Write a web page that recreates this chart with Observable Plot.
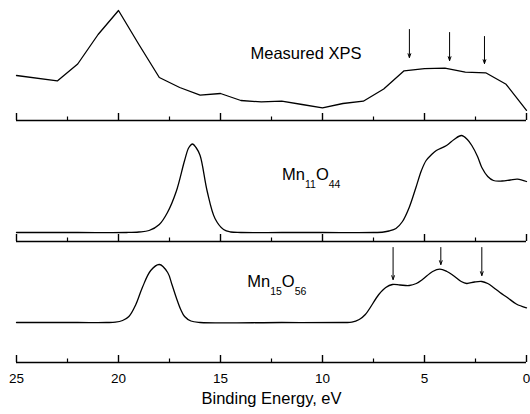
<!DOCTYPE html>
<html><head><meta charset="utf-8">
<script src="https://cdn.jsdelivr.net/npm/d3@7"></script>
<script src="https://cdn.jsdelivr.net/npm/@observablehq/plot@0.6"></script>
<style>
body{margin:0;background:#fff}
#chart{width:530px;height:414px;overflow:hidden;background:#fff}
#chart svg{display:block}
</style>
</head><body><div id="chart"></div>
<script>
// ---- data ----
const majorTicks = [25, 20, 15, 10, 5, 0];
const minorTicks = [22.5, 17.5, 12.5, 7.5, 2.5];

// Measured XPS (polyline)
const xpsEnergy = [25, 23, 22, 21, 20, 19, 18, 17, 16, 15, 14, 13, 12, 11, 10, 9, 8, 7, 6, 5, 4, 3, 2, 1, 0];
const xpsIntensity = [45, 39.6, 56.5, 86, 110, 76, 43, 33, 25.4, 27, 20, 18.6, 19.3, 16, 12.6, 17, 19.3, 31.5, 49.7, 51.8, 52.4, 48.4, 47.7, 36.2, 10.2];

// Mn11O44
const mn11Energy = [25, 22, 19.6, 19.0, 18.5, 18.0, 17.6, 17.17, 16.76, 16.55, 16.37, 16.2, 16.0, 15.65, 15.27, 14.85, 14.5, 14.0, 12, 10, 7.5, 7.0, 6.74, 6.4, 6.08, 5.75, 5.42, 5.15, 4.92, 4.65, 4.42, 3.92, 3.55, 3.19, 2.9, 2.68, 2.4, 2.19, 1.9, 1.62, 1.2, 0.8, 0.44, 0];
const mn11Intensity = [0, 0, 0, 0.5, 2, 8, 20, 41, 72, 85, 88.5, 85, 77, 41, 14, 3, 0.5, 0, 0, 0, 0, 0.5, 1.5, 4, 11, 25, 45, 62, 72, 78, 82, 87, 93, 97, 93, 87, 76, 65, 56, 52, 51.5, 52.5, 53.4, 51];

// Mn15O56
const mn15Energy = [25, 22, 20.6, 20.15, 19.8, 19.49, 19.15, 18.83, 18.42, 18.0, 17.59, 17.38, 17.17, 16.95, 16.76, 16.45, 16.0, 12, 9, 8.56, 8.2, 7.9, 7.24, 6.9, 6.57, 6.2, 5.75, 5.4, 5.1, 4.6, 4.25, 3.9, 3.59, 3.2, 2.93, 2.55, 2.19, 1.9, 1.62, 1.3, 0.94, 0.5, 0];
const mn15Intensity = [0, 0, 0, 0.3, 2, 6, 18, 35, 52, 58, 50, 38, 25, 13, 6, 1.5, 0, 0, 0, 0.3, 3, 8, 28, 35, 38, 37.5, 37, 39, 43, 51, 53.4, 51, 47, 41, 39, 40.5, 41, 39, 35, 30, 25, 18.5, 14.6];

// arrows
const xpsArrowEnergy = [5.74, 3.77, 2.06];
const xpsArrowFrom = [91, 88, 84];
const xpsArrowTo = [63, 60, 57];
const mn15ArrowEnergy = [6.54, 4.2, 2.19];
const mn15ArrowFrom = [75, 75, 75];
const mn15ArrowTo = [43, 58, 47];

const labels = ["Measured XPS", "Mn11O44", "Mn15O56"];
const xTitle = "Binding Energy, eV";

// ---- build ----
const FONT = "'Liberation Sans', Arial, Helvetica, sans-serif";
const toRows = (xs, ys) => xs.map((x, i) => ({x, y: ys[i]}));
const arrowRows = (xs, a, b) => xs.map((x, i) => ({x, y1: a[i], y2: b[i]}));

function panel({height, marginBottom, yDomain, marks}) {
  const frameH = height - marginBottom;
  return Plot.plot({
    width: 530, height, marginLeft: 16, marginRight: 4, marginTop: 0, marginBottom,
    x: {domain: [25, 0], axis: null},
    y: {domain: yDomain, axis: null},
    style: {fontFamily: FONT, background: "white", overflow: "visible", color: "black"},
    marks: [
      Plot.ruleY([yDomain[0]], {stroke: "black", strokeWidth: 1.5}),
      Plot.tickX(majorTicks, {x: d => d, insetTop: frameH - 7, stroke: "black", strokeWidth: 1.4}),
      Plot.tickX(minorTicks, {x: d => d, insetTop: frameH - 3.5, stroke: "black", strokeWidth: 1.2}),
      ...marks
    ]
  });
}

const txt = (label, x, y) => Plot.text([label], {x: () => x, y: () => y, text: d => d, textAnchor: "start", fontSize: 16.5, fill: "black"});

const p1 = panel({
  height: 122, marginBottom: 2, yDomain: [0, 120],
  marks: [
    Plot.line(toRows(xpsEnergy, xpsIntensity), {x: "x", y: "y", stroke: "black", strokeWidth: 1.3}),
    Plot.arrow(arrowRows(xpsArrowEnergy, xpsArrowFrom, xpsArrowTo), {x: "x", y1: "y1", y2: "y2", stroke: "black", strokeWidth: 1, headLength: 6, headAngle: 40}),
    txt(labels[0], 13.53, 67)
  ]
});

const p2 = panel({
  height: 121, marginBottom: 2, yDomain: [-9, 110],
  marks: [
    Plot.line(toRows(mn11Energy, mn11Intensity), {x: "x", y: "y", stroke: "black", strokeWidth: 1.3, curve: "catmull-rom"}),
    txt(labels[1], 11.98, 58)
  ]
});

const p3 = panel({
  height: 171, marginBottom: 52, yDomain: [-40, 79],
  marks: [
    Plot.line(toRows(mn15Energy, mn15Intensity), {x: "x", y: "y", stroke: "black", strokeWidth: 1.3, curve: "catmull-rom"}),
    Plot.arrow(arrowRows(mn15ArrowEnergy, mn15ArrowFrom, mn15ArrowTo), {x: "x", y1: "y1", y2: "y2", stroke: "black", strokeWidth: 1, headLength: 6, headAngle: 40}),
    txt(labels[2], 13.69, 41),
    Plot.axisX(majorTicks, {anchor: "bottom", tickSize: 0, tickPadding: 11, fontSize: 13.5, label: null, fill: "black"}),
    Plot.text([xTitle], {frameAnchor: "bottom", dy: 41, text: d => d, fontSize: 16.5, fill: "black"})
  ]
});

const chart = document.getElementById("chart");
[p1, p2, p3].forEach(svg => {
  d3.select(svg).selectAll("text").each(function() {
    const m = this.textContent.match(/^Mn(\d+)O(\d+)$/);
    if (!m) return;
    const s = d3.select(this);
    s.text(null);
    s.append("tspan").text("Mn");
    s.append("tspan").attr("dy", 8).attr("font-size", 10.5).text(m[1]);
    s.append("tspan").attr("dy", -8).text("O");
    s.append("tspan").attr("dy", 8).attr("font-size", 10.5).text(m[2]);
  });
  chart.appendChild(svg);
});
</script>
</body></html>
